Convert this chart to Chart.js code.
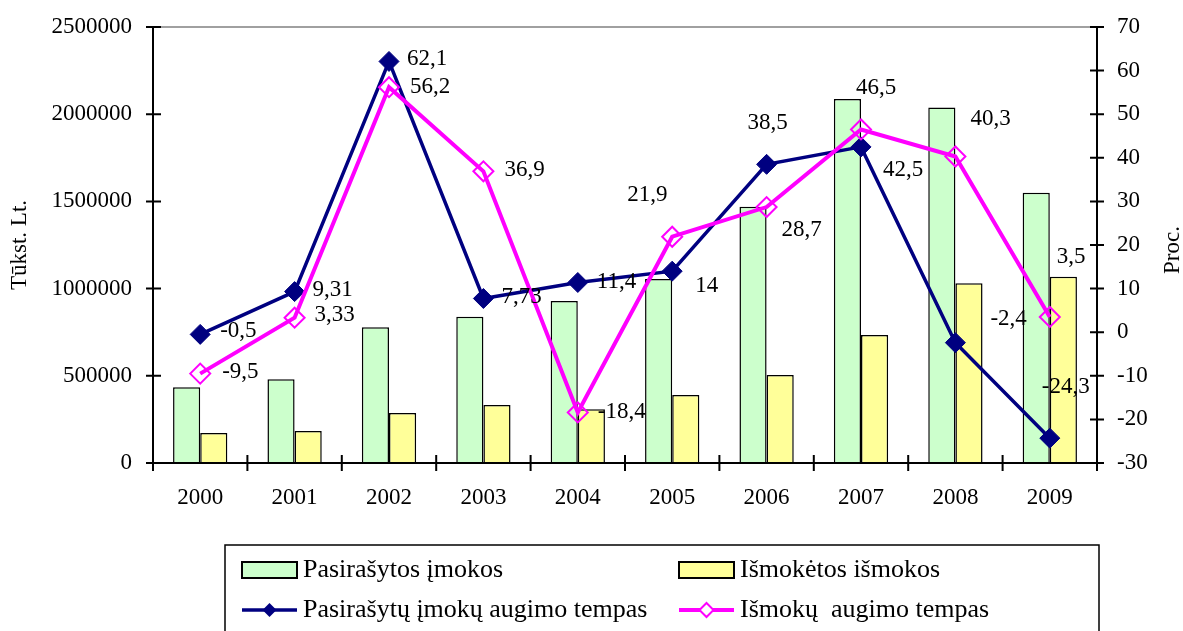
<!DOCTYPE html>
<html>
<head>
<meta charset="utf-8">
<script src="https://cdn.jsdelivr.net/npm/chart.js@4"></script>
<style>
  body { margin: 0; background: #fff; }
  canvas { display: block; }
</style>
</head>
<body>
<canvas id="chart" width="1183" height="631"></canvas>
<script>
// Data
const years = ["2000", "2001", "2002", "2003", "2004", "2005", "2006", "2007", "2008", "2009"];
const signedPayments = [435000, 480000, 778000, 839000, 929000, 1055000, 1470000, 2087000, 2039000, 1550000];
const paidBenefits = [172000, 183000, 287000, 333000, 308000, 390000, 505000, 734000, 1030000, 1068000];
const signedGrowth = [-0.5, 9.31, 62.1, 7.73, 11.4, 14, 38.5, 42.5, -2.4, -24.3];
const benefitGrowth = [-9.5, 3.33, 56.2, 36.9, -18.4, 21.9, 28.7, 46.5, 40.3, 3.5];
const leftTicks = [0, 500000, 1000000, 1500000, 2000000, 2500000];
const rightTicks = [-30, -20, -10, 0, 10, 20, 30, 40, 50, 60, 70];
const seriesNames = [
  "Pasirašytos įmokos",
  "Išmokėtos išmokos",
  "Pasirašytų įmokų augimo tempas",
  "Išmokų  augimo tempas",
];

const FONT = "'Liberation Serif', 'Times New Roman', serif";

// label offsets (text left edge / middle) relative to each point, like the hand-placed Excel labels
const labelOffsets = {
  2: [[20, -3], [18, -2], [18, -2], [18, -2], [19, -1], [23, 15], [-19, -41], [22, 23], [35, -24], [-8, -51]],
  3: [[22, -2], [20, -3], [21, 0], [21, -1], [20, 0], [-45, -42], [15, 23], [-5, -42], [15, -38], [7, -60]],
};

function fmt(v) {
  return String(v).replace(".", ",");
}

// keep the plot area where the reference has it
function fixWidth(w) {
  return function (scale) {
    scale.width = w;
    scale.paddingTop = 0;
    scale.paddingBottom = 0;
  };
}

const axesPlugin = {
  id: "axes",
  afterDatasetsDraw(chart) {
    const ctx = chart.ctx;
    const area = chart.chartArea;
    const x = chart.scales.x;
    const y = chart.scales.y;
    const y1 = chart.scales.y1;
    ctx.save();

    // top border of plot area
    ctx.strokeStyle = "#808080";
    ctx.lineWidth = 1.5;
    ctx.beginPath();
    ctx.moveTo(area.left, area.top);
    ctx.lineTo(area.right, area.top);
    ctx.stroke();

    ctx.strokeStyle = "#000";
    ctx.lineWidth = 2;
    ctx.beginPath();
    // left axis
    ctx.moveTo(area.left, area.top);
    ctx.lineTo(area.left, area.bottom);
    y.ticks.forEach((t) => {
      const py = y.getPixelForValue(t.value);
      ctx.moveTo(area.left - 7, py);
      ctx.lineTo(area.left + 8, py);
    });
    // right axis
    ctx.moveTo(area.right, area.top);
    ctx.lineTo(area.right, area.bottom);
    y1.ticks.forEach((t) => {
      const py = y1.getPixelForValue(t.value);
      ctx.moveTo(area.right - 7, py);
      ctx.lineTo(area.right + 7, py);
    });
    // bottom axis with ticks between categories
    ctx.moveTo(area.left, area.bottom);
    ctx.lineTo(area.right, area.bottom);
    const half = (x.getPixelForValue(1) - x.getPixelForValue(0)) / 2;
    for (let i = 0; i <= years.length; i++) {
      const px = x.getPixelForValue(i) - half;
      ctx.moveTo(px, area.bottom - 8);
      ctx.lineTo(px, area.bottom + 8);
    }
    ctx.stroke();

    // data labels for the growth lines
    ctx.fillStyle = "#000";
    ctx.font = "23px " + FONT;
    ctx.textAlign = "left";
    ctx.textBaseline = "middle";
    [2, 3].forEach((di) => {
      const meta = chart.getDatasetMeta(di);
      const values = chart.data.datasets[di].data;
      meta.data.forEach((pt, i) => {
        const off = labelOffsets[di][i];
        ctx.fillText(fmt(values[i]), pt.x + off[0], pt.y + off[1]);
      });
    });

    // axis titles
    ctx.textAlign = "center";
    ctx.save();
    ctx.translate(20, (area.top + area.bottom) / 2);
    ctx.rotate(-Math.PI / 2);
    ctx.fillText("Tūkst. Lt.", 0, 0);
    ctx.restore();
    ctx.save();
    ctx.translate(1173, (area.top + area.bottom) / 2 + 5);
    ctx.rotate(-Math.PI / 2);
    ctx.fillText("Proc.", 0, 0);
    ctx.restore();

    ctx.restore();
  },
  afterDraw(chart) {
    // legend box, two columns
    const ctx = chart.ctx;
    const ds = chart.data.datasets;
    ctx.save();
    ctx.strokeStyle = "#000";
    ctx.lineWidth = 1.5;
    ctx.strokeRect(225, 545, 874, 100);

    const cols = [242, 679];
    const rows = [570, 610];
    ctx.font = "26px " + FONT;
    ctx.textAlign = "left";
    ctx.textBaseline = "middle";
    ds.forEach((d, i) => {
      const lx = cols[i % 2];
      const ly = rows[Math.floor(i / 2)];
      if (d.type === "bar") {
        ctx.fillStyle = d.backgroundColor;
        ctx.fillRect(lx, ly - 8, 55, 16);
        ctx.lineWidth = 2;
        ctx.strokeStyle = "#000";
        ctx.strokeRect(lx, ly - 8, 55, 16);
      } else {
        ctx.strokeStyle = d.borderColor;
        ctx.lineWidth = d.borderWidth;
        ctx.beginPath();
        ctx.moveTo(lx, ly);
        ctx.lineTo(lx + 55, ly);
        ctx.stroke();
        const cx = lx + 27.5;
        const r = 7;
        ctx.beginPath();
        ctx.moveTo(cx - r, ly);
        ctx.lineTo(cx, ly - r);
        ctx.lineTo(cx + r, ly);
        ctx.lineTo(cx, ly + r);
        ctx.closePath();
        if (d.pointBackgroundColor === "#000080") {
          ctx.fillStyle = "#000080";
          ctx.fill();
        } else {
          ctx.fillStyle = "#fff";
          ctx.fill();
          ctx.lineWidth = 2;
          ctx.stroke();
        }
      }
      ctx.fillStyle = "#000";
      ctx.fillText(seriesNames[i], lx + 61, ly);
    });
    ctx.restore();
  },
};

const ctx = document.getElementById("chart").getContext("2d");
new Chart(ctx, {
  data: {
    labels: years,
    datasets: [
      {
        type: "bar",
        label: seriesNames[0],
        data: signedPayments,
        backgroundColor: "#CCFFCC",
        borderColor: "#000",
        borderWidth: 1.5,
        categoryPercentage: 0.575,
        barPercentage: 1,
        yAxisID: "y",
        order: 2,
      },
      {
        type: "bar",
        label: seriesNames[1],
        data: paidBenefits,
        backgroundColor: "#FFFF99",
        borderColor: "#000",
        borderWidth: 1.5,
        categoryPercentage: 0.575,
        barPercentage: 1,
        yAxisID: "y",
        order: 2,
      },
      {
        type: "line",
        label: seriesNames[2],
        data: signedGrowth,
        borderColor: "#000080",
        borderWidth: 3.5,
        pointStyle: "rectRot",
        pointRadius: 10,
        pointBackgroundColor: "#000080",
        pointBorderColor: "#000080",
        pointBorderWidth: 1,
        tension: 0,
        yAxisID: "y1",
        order: 1,
      },
      {
        type: "line",
        label: seriesNames[3],
        data: benefitGrowth,
        borderColor: "#FF00FF",
        borderWidth: 4,
        pointStyle: "rectRot",
        pointRadius: 10,
        pointBackgroundColor: "rgba(0,0,0,0)",
        pointBorderColor: "#FF00FF",
        pointBorderWidth: 2,
        tension: 0,
        yAxisID: "y1",
        order: 0,
      },
    ],
  },
  options: {
    responsive: false,
    animation: false,
    layout: {
      autoPadding: false,
      padding: { top: 27, left: 0, right: 0, bottom: 118 },
    },
    plugins: {
      legend: { display: false },
      tooltip: { enabled: false },
    },
    scales: {
      x: {
        grid: { display: false, drawTicks: false },
        border: { display: false },
        ticks: {
          color: "#000",
          font: { family: FONT, size: 23 },
          padding: 21,
          maxRotation: 0,
        },
        afterFit: function (scale) {
          scale.height = 50;
          scale.paddingLeft = 0;
          scale.paddingRight = 0;
        },
      },
      y: {
        position: "left",
        min: 0,
        max: 2500000,
        afterBuildTicks: function (scale) {
          scale.ticks = leftTicks.map((v) => ({ value: v }));
        },
        grid: { display: false, drawTicks: false },
        border: { display: false },
        ticks: {
          color: "#000",
          font: { family: FONT, size: 23 },
          padding: 21,
          callback: function (value) {
            return String(value);
          },
        },
        afterFit: fixWidth(153),
      },
      y1: {
        position: "right",
        min: -30,
        max: 70,
        afterBuildTicks: function (scale) {
          scale.ticks = rightTicks.map((v) => ({ value: v }));
        },
        grid: { display: false, drawTicks: false },
        border: { display: false },
        ticks: {
          color: "#000",
          font: { family: FONT, size: 23 },
          padding: 20,
          callback: function (value) {
            return String(value);
          },
        },
        afterFit: fixWidth(86),
      },
    },
  },
  plugins: [axesPlugin],
});
</script>
</body>
</html>
